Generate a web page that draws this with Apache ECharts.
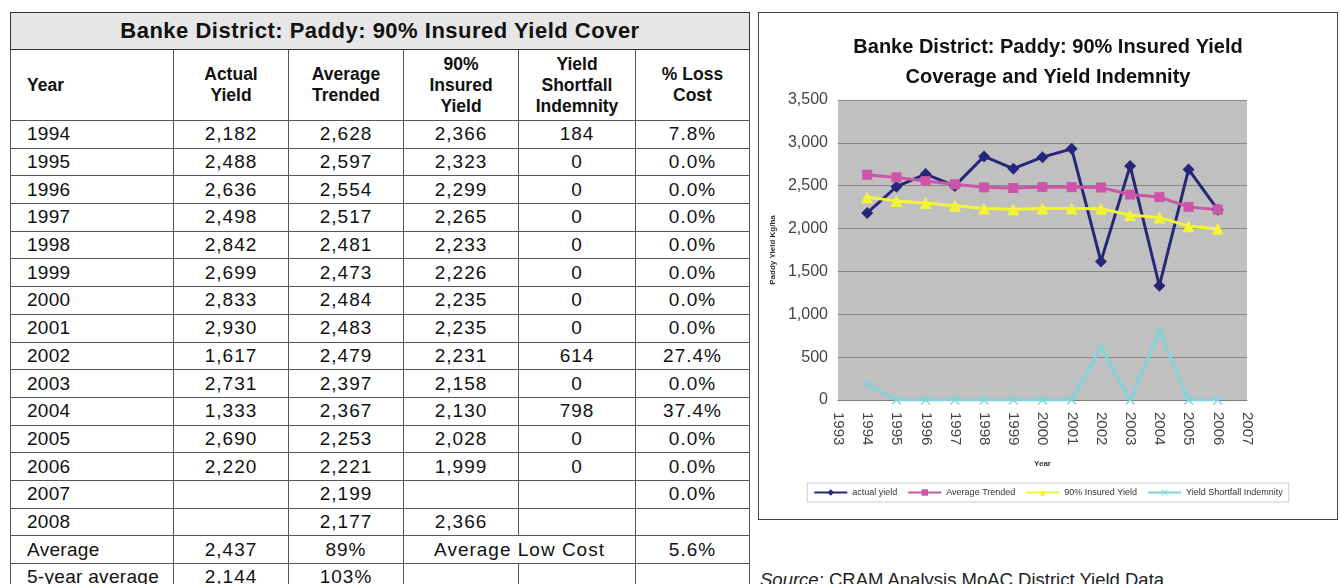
<!DOCTYPE html>
<html>
<head>
<meta charset="utf-8">
<script src="https://cdn.jsdelivr.net/npm/echarts@6/dist/echarts.min.js"></script>
<style>
  html, body {
    margin: 0;
    padding: 0;
    width: 1340px;
    height: 584px;
    overflow: hidden;
    background: #fff;
    font-family: "Liberation Sans", Arial, sans-serif;
  }
  #yieldTable {
    position: absolute;
    left: 10px;
    top: 12px;
    border-collapse: collapse;
    table-layout: fixed;
    color: #111;
  }
  #yieldTable td, #yieldTable th {
    border: 1px solid #555;
    padding: 0;
    text-align: center;
    overflow: hidden;
    white-space: nowrap;
  }
  #yieldTable .title th {
    height: 36px;
    background: #e6e6e6;
    font-size: 22px;
    letter-spacing: 0.5px;
    font-weight: bold;
    border: 1.5px solid #333;
  }
  #yieldTable .head th {
    height: 70px;
    font-size: 17.5px;
    line-height: 21px;
    font-weight: bold;
    white-space: normal;
  }
  #yieldTable .row td {
    height: 26.7px;
    font-size: 19px;
    letter-spacing: 1px;
  }
  #yieldTable .row td.left {
    letter-spacing: 0.3px;
  }
  #yieldTable .left {
    text-align: left;
    padding-left: 16px;
  }
  #chartBox {
    position: absolute;
    left: 758px;
    top: 12px;
    width: 578px;
    height: 506px;
    border: 1px solid #444;
  }
  #chart {
    width: 578px;
    height: 506px;
  }
  #source {
    position: absolute;
    left: 760px;
    top: 569px;
    font-size: 18.5px;
    color: #222;
  }
</style>
</head>
<body>
<table id="yieldTable">
  <colgroup>
    <col style="width:163px"><col style="width:115px"><col style="width:115px">
    <col style="width:115px"><col style="width:117px"><col style="width:114px">
  </colgroup>
  <tbody id="tableBody"></tbody>
</table>
<div id="chartBox"><div id="chart"></div></div>
<div id="source"><i>Source:</i> CRAM Analysis MoAC District Yield Data</div>

<script>
// table data (null = empty cell)
const years = [1994, 1995, 1996, 1997, 1998, 1999, 2000, 2001, 2002, 2003, 2004, 2005, 2006, 2007, 2008];
const actualYield = [2182, 2488, 2636, 2498, 2842, 2699, 2833, 2930, 1617, 2731, 1333, 2690, 2220, null, null];
const averageTrended = [2628, 2597, 2554, 2517, 2481, 2473, 2484, 2483, 2479, 2397, 2367, 2253, 2221, 2199, 2177];
const insuredYield = [2366, 2323, 2299, 2265, 2233, 2226, 2235, 2235, 2231, 2158, 2130, 2028, 1999, null, 2366];
const shortfallIndemnity = [184, 0, 0, 0, 0, 0, 0, 0, 614, 0, 798, 0, 0, null, null];
const lossCost = [7.8, 0, 0, 0, 0, 0, 0, 0, 27.4, 0, 37.4, 0, 0, 0, null];

const headers = ['Year', 'Actual<br>Yield', 'Average<br>Trended', '90%<br>Insured<br>Yield', 'Yield<br>Shortfall<br>Indemnity', '% Loss<br>Cost'];
const averageRow = ['Average', '2,437', '89%', 'Average Low Cost', '5.6%'];
const fiveYearRow = ['5-year average', '2,144', '103%', '', '', ''];

// the chart only plots 1994-2006
const chartYearCount = 13;

function fmt(v) {
  return v == null ? '' : v.toLocaleString('en-US');
}
function pct(v) {
  return v == null ? '' : v.toFixed(1) + '%';
}

function buildTable() {
  let html = '<tr class="title"><th colspan="6">Banke District: Paddy: 90% Insured Yield Cover</th></tr>';
  html += '<tr class="head">' + headers.map((h, i) =>
    '<th' + (i === 0 ? ' class="left"' : '') + '>' + h + '</th>').join('') + '</tr>';
  years.forEach((y, i) => {
    html += '<tr class="row"><td class="left">' + y + '</td>' +
      '<td>' + fmt(actualYield[i]) + '</td>' +
      '<td>' + fmt(averageTrended[i]) + '</td>' +
      '<td>' + fmt(insuredYield[i]) + '</td>' +
      '<td>' + fmt(shortfallIndemnity[i]) + '</td>' +
      '<td>' + pct(lossCost[i]) + '</td></tr>';
  });
  html += '<tr class="row"><td class="left">' + averageRow[0] + '</td><td>' + averageRow[1] +
    '</td><td>' + averageRow[2] + '</td><td colspan="2">' + averageRow[3] + '</td><td>' + averageRow[4] + '</td></tr>';
  html += '<tr class="row"><td class="left">' + fiveYearRow[0] + '</td>' +
    fiveYearRow.slice(1).map(v => '<td>' + v + '</td>').join('') + '</tr>';
  document.getElementById('tableBody').innerHTML = html;
}

function pairs(values) {
  return years.slice(0, chartYearCount).map((y, i) => [y, values[i]]);
}

function buildChart() {
  const chart = echarts.init(document.getElementById('chart'));
  const crossSymbol = 'path://M0,1L1,0L5,4L9,0L10,1L6,5L10,9L9,10L5,6L1,10L0,9L4,5Z';
  const option = {
    animation: false,
    title: {
      text: 'Banke District: Paddy: 90% Insured Yield\nCoverage and Yield Indemnity',
      left: 'center',
      top: 14,
      textStyle: {
        fontFamily: 'Liberation Sans',
        fontSize: 20,
        fontWeight: 'bold',
        color: '#111',
        lineHeight: 30
      }
    },
    grid: {
      left: 79,
      top: 87,
      width: 409,
      height: 300,
      show: true,
      backgroundColor: '#c0c0c0',
      borderWidth: 0
    },
    legend: {
      left: 'center',
      top: 470,
      padding: [5, 6],
      borderColor: '#ccc',
      borderWidth: 1,
      itemGap: 10,
      itemWidth: 33,
      itemHeight: 8,
      textStyle: { fontSize: 9, color: '#333', fontFamily: 'Liberation Sans' },
      data: ['actual yield', 'Average Trended', '90% Insured Yield', 'Yield Shortfall Indemnity']
    },
    xAxis: {
      type: 'value',
      min: 1993,
      max: 2007,
      interval: 1,
      name: 'Year',
      nameLocation: 'middle',
      nameGap: 60,
      nameTextStyle: { fontSize: 8, fontWeight: 'bold', color: '#333' },
      axisLine: { show: true, lineStyle: { color: '#808080', width: 1 } },
      axisTick: { show: false },
      splitLine: { show: false },
      axisLabel: {
        rotate: -90,
        margin: 12,
        fontSize: 15,
        color: '#444',
        fontFamily: 'Liberation Sans',
        formatter: v => String(v)
      }
    },
    yAxis: {
      type: 'value',
      min: 0,
      max: 3500,
      interval: 500,
      name: 'Paddy Yield Kg/ha',
      nameLocation: 'middle',
      nameGap: 60,
      nameTextStyle: { fontSize: 8, fontWeight: 'bold', color: '#333' },
      axisLine: { show: false },
      axisTick: { show: false },
      splitLine: { show: true, lineStyle: { color: '#888', width: 1 } },
      axisLabel: {
        margin: 10,
        fontSize: 16,
        color: '#444',
        fontFamily: 'Liberation Sans',
        formatter: v => v.toLocaleString('en-US')
      }
    },
    series: [
      {
        name: 'actual yield',
        type: 'line',
        data: pairs(actualYield),
        symbol: 'diamond',
        symbolSize: 12,
        lineStyle: { color: '#27277a', width: 3 },
        itemStyle: { color: '#27277a' }
      },
      {
        name: 'Average Trended',
        type: 'line',
        data: pairs(averageTrended),
        symbol: 'rect',
        symbolSize: 10,
        lineStyle: { color: '#cc55aa', width: 3 },
        itemStyle: { color: '#cc55aa' }
      },
      {
        name: '90% Insured Yield',
        type: 'line',
        data: pairs(insuredYield),
        symbol: 'triangle',
        symbolSize: 12,
        lineStyle: { color: '#f4f436', width: 3 },
        itemStyle: { color: '#f4f436' }
      },
      {
        name: 'Yield Shortfall Indemnity',
        type: 'line',
        data: pairs(shortfallIndemnity),
        symbol: crossSymbol,
        symbolSize: 10,
        lineStyle: { color: '#80d4dc', width: 3 },
        itemStyle: { color: '#80d4dc' }
      }
    ]
  };
  chart.setOption(option);
}

buildTable();
buildChart();
</script>
</body>
</html>
